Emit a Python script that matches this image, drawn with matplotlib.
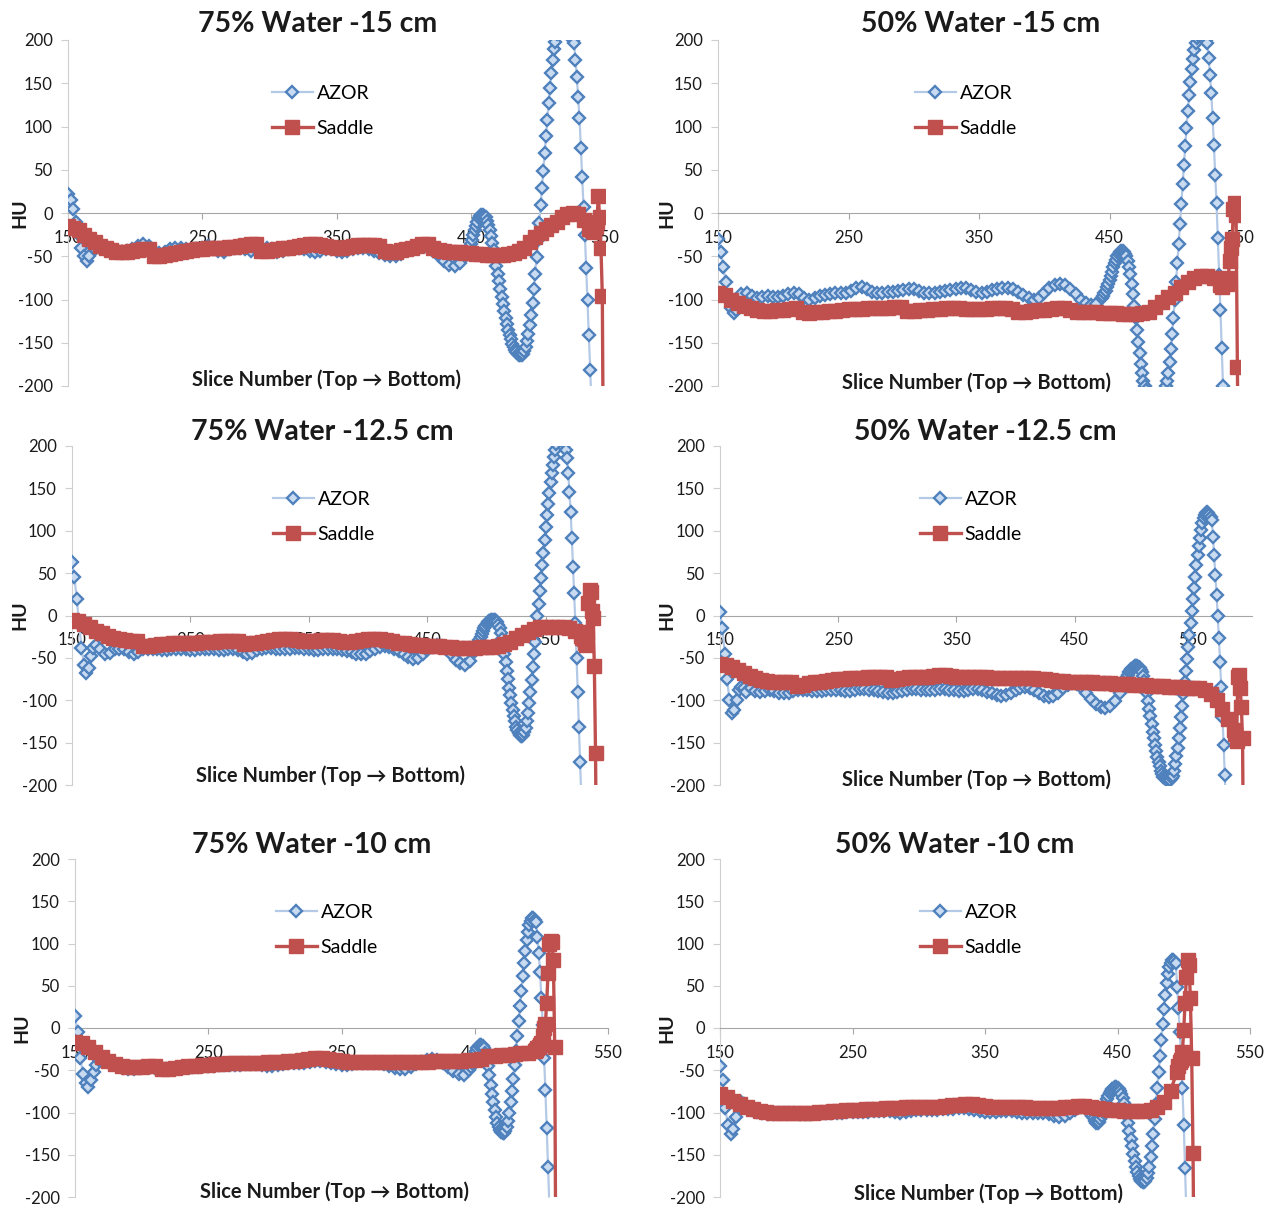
import matplotlib
matplotlib.use("Agg")
import matplotlib.pyplot as plt

plt.rcParams['font.family'] = ['Lato', 'DejaVu Sans']
plt.rcParams['axes.unicode_minus'] = False

# ---------- data: HU along the slice number ----------
# every series is kept as pieces (first slice, slice step, HU values)

# 75% Water -15 cm
p1_azor = [
    (150, 2, [22, 15, 5, -10, -25, -40, -50, -55, -50]),
    (170, 4, [-42, -40, -40, -42, -44, -45, -44, -42, -38, -36,
              -38, -44, -46, -45, -42, -40, -40, -42, -44, -43,
              -40, -38, -40, -44, -45, -42, -40, -40, -42, -44,
              -42, -40, -40, -42, -45, -44, -42, -40, -40, -42,
              -44, -45, -44, -42, -42, -44, -45, -44, -42, -40,
              -40, -42, -44, -46, -48, -50, -50, -47, -43, -40,
              -38, -38, -40, -44, -50, -56, -60, -61, -58, -50]),
    (447, 1, [-47, -44, -40, -36, -31, -26, -20, -15, -10, -6, -3, -2,
              -2, -3, -5, -9, -14, -20, -27, -35, -43, -52, -61, -70, -79, -88,
              -97, -105, -113, -121, -128, -135, -141, -146, -151, -155, -158,
              -161, -163, -164, -164, -164,
              -163, -160, -155, -148, -140, -130, -118, -104, -88, -70, -51, -31,
              -11, 9, 29, 49, 69, 89, 108, 127, 145, 162, 177, 190, 198, 207,
              214, 219, 223, 225, 226, 225, 223, 220, 216, 211, 205, 200, 197,
              177, 157, 134, 110, 75, 42, 7, -25, -64, -101, -141, -181, -222]),
]
p1_saddle = [
    (150, 4, [-15, -17, -20, -25, -30, -34, -38, -41, -43, -45,
              -45, -45, -44, -43, -42, -42, -50, -50, -48, -47,
              -46, -45, -44, -43, -42, -42, -41, -41, -40, -40,
              -39, -39, -38, -37, -36, -36, -44, -44, -43, -42,
              -41, -40, -39, -38, -37, -36, -36, -37, -38, -39,
              -40, -40, -39, -38, -37, -37, -37, -37, -38, -44,
              -45, -45, -43, -42, -40, -38, -36, -36, -40, -43,
              -44, -45, -45, -45, -46, -46, -47, -47, -48, -49,
              -49, -48, -47, -46, -44, -40, -34, -28, -23, -18,
              -14, -10, -5, -1, 0, -1, -8, -18]),
    (539, 1, [-19, -20, -21, -22, -16, -10, 20, -5, -40, -96, -350]),
]

# 50% Water -15 cm
p2_azor = [
    (150, 2, [-30, -45, -62, -80, -98, -110, -116, -112, -102, -94]),
    (172, 4, [-92, -96, -98, -97, -96, -97, -97, -96, -94, -92,
              -94, -98, -100, -98, -96, -95, -94, -93, -93, -92,
              -90, -87, -85, -88, -91, -92, -92, -91, -91, -90,
              -89, -88, -88, -90, -92, -93, -92, -91, -90, -89,
              -88, -87, -87, -89, -91, -92, -91, -89, -88, -87,
              -87, -88, -91, -95, -98, -100, -98, -93, -87, -83,
              -82, -83, -88, -94, -100, -104, -106, -105, -98]),
    (445, 1, [-96, -93, -90, -86, -82, -78, -73, -68, -63, -58, -54, -50,
              -47, -45, -44, -44, -45, -47, -50, -55, -62, -71, -82, -94,
              -107, -121, -135, -149, -162, -174, -185, -194, -200, -205,
              -211, -217, -222, -226, -229, -231, -232, -231, -229, -226,
              -222, -217, -211, -205, -200, -194, -185, -172, -157, -140,
              -121, -101, -80, -58, -36, -13, 10, 33, 55, 77, 98, 118, 136,
              152, 166, 178, 188, 196, 202, 206, 208, 208, 207, 205, 203,
              200, 196, 179, 160, 139, 110, 79, 44, 12, -29, -72, -112,
              -156, -200, -245]),
]
p2_saddle = [
    (150, 5, [-93, -95, -100, -104, -107, -110, -112, -113, -113, -112,
              -112, -111, -110, -115, -116, -115, -114, -113, -113, -112,
              -111, -111, -111, -110, -110, -110, -110, -109, -109, -113,
              -113, -112, -112, -111, -111, -110, -110, -110, -111, -111,
              -111, -111, -110, -110, -110, -111, -114, -114, -113, -112,
              -112, -111, -110, -110, -112, -114, -115, -115, -115, -116,
              -116, -116, -117, -117, -117, -116, -114, -109, -103, -97,
              -92, -86, -80, -75, -73, -73, -75, -83]),
    (536, 1, [-85, -80, -78, -80, -82, -75, -55, -40, -30, 5, 12, -2, -178, -330]),
]

# 75% Water -12.5 cm
p3_azor = [
    (150, 2, [63, 45, 20, -10, -38, -58, -68, -62, -48, -38, -35]),
    (174, 4, [-40, -46, -44, -40, -39, -40, -43, -45, -43, -40,
              -39, -39, -40, -41, -41, -40, -39, -39, -40, -41,
              -41, -40, -39, -39, -40, -41, -41, -40, -40, -41,
              -43, -45, -44, -41, -39, -38, -38, -39, -40, -40,
              -39, -38, -38, -39, -40, -41, -41, -40, -39, -39,
              -40, -41, -42, -43, -45, -46, -45, -42, -39, -37,
              -36, -37, -39, -42, -46, -49, -51, -50, -46, -41,
              -37, -35, -36, -40, -46, -52, -56, -58, -54, -42]),
    (491, 1, [-39, -36, -32, -29, -25, -22, -18, -15, -12, -10, -8, -7, -6,
              -5, -5, -5, -5, -6, -8, -11, -15, -21, -28, -36, -45, -55, -65,
              -75, -85, -94, -103, -111, -118, -125, -131, -135, -139, -141,
              -142, -142, -141, -138, -133, -125, -115, -103, -90, -76, -61,
              -46, -31, -16, -1, 14, 29, 44, 59, 74, 89, 104, 118, 132, 145,
              157, 168, 178, 187, 195, 202, 208, 212, 214, 214, 212, 208, 202,
              195, 186, 168, 146, 122, 91, 57, 26, -9, -50, -90, -132, -173,
              -215]),
]
p3_saddle = [
    (150, 5, [-5, -7, -10, -14, -18, -21, -24, -26, -28, -29,
              -30, -30, -36, -36, -35, -34, -34, -33, -33, -32,
              -32, -32, -31, -31, -31, -30, -30, -30, -30, -34,
              -33, -32, -31, -30, -29, -28, -28, -28, -29, -30,
              -30, -30, -29, -29, -29, -30, -31, -31, -30, -29,
              -28, -28, -28, -29, -30, -32, -33, -34, -35, -35,
              -36, -36, -36, -37, -37, -38, -38, -38, -38, -37,
              -37, -37, -36, -34, -31, -27, -23, -19, -16, -14,
              -13, -13, -13, -14, -15, -18, -24]),
    (581, 1, [-26, -28, -32, -35, -20, 15, 30, 28, 5, -3, -60, -162, -330]),
]

# 50% Water -12.5 cm
p4_azor = [
    (150, 2, [4, -15, -45, -75, -100, -115, -112, -100, -88, -84, -86, -90]),
    (176, 4, [-86, -89, -90, -89, -88, -89, -91, -92, -91, -89,
              -88, -88, -88, -89, -89, -89, -88, -88, -88, -88,
              -89, -89, -88, -87, -87, -88, -88, -89, -90, -91,
              -91, -90, -89, -88, -87, -87, -88, -88, -88, -88,
              -87, -87, -88, -88, -89, -89, -88, -87, -87, -88,
              -90, -92, -94, -95, -94, -91, -88, -85, -84, -85,
              -88, -92, -95, -96, -95, -91, -86, -82, -80, -81,
              -85, -91, -98, -104, -108, -109, -107, -101, -91, -79]),
    (493, 1, [-76, -73, -70, -67, -65, -63, -62, -61, -60, -60, -60, -61,
              -62, -64, -67, -71, -77, -84, -92, -101, -110, -119, -128,
              -137, -145, -153, -160, -167, -173, -178, -183, -187, -190,
              -192, -193, -194, -195, -195, -194, -192, -189, -183, -175,
              -166, -156, -145, -133, -120, -107, -93, -79, -65, -51, -37,
              -23, -9, 5, 19, 33, 46, 59, 71, 82, 92, 101, 109, 115, 119,
              121, 122, 121, 119, 116, 113, 93, 71, 48, 24, 0, -27, -55, -84,
              -120, -153, -188, -225]),
]
p4_saddle = [
    (150, 5, [-57, -58, -61, -64, -68, -71, -74, -76, -77, -78,
              -78, -78, -79, -83, -82, -80, -79, -78, -77, -76,
              -75, -75, -74, -74, -74, -73, -73, -73, -73, -76,
              -75, -74, -73, -72, -72, -72, -71, -70, -70, -71,
              -72, -72, -72, -72, -72, -73, -74, -74, -74, -74,
              -74, -74, -74, -74, -75, -75, -76, -77, -77, -78,
              -78, -78, -79, -79, -80, -80, -80, -81, -81, -81,
              -82, -82, -82, -83, -83, -83, -84, -84, -84, -85,
              -85, -86, -88, -93, -100, -110, -122, -135]),
    (586, 1, [-140, -148, -72, -70, -85, -108, -145, -330]),
]

# 75% Water -10 cm
p5_azor = [
    (150, 2, [14, -5, -35, -55, -65, -70, -62, -52, -44, -38, -36]),
    (174, 4, [-38, -42, -45, -47, -48, -48, -47, -46, -46, -47,
              -48, -49, -48, -47, -46, -46, -46, -46, -45, -45,
              -45, -44, -44, -44, -44, -44, -43, -43, -43, -44,
              -45, -45, -44, -43, -42, -42, -42, -41, -40, -39,
              -39, -40, -42, -43, -44, -44, -43, -42, -42, -42,
              -42, -42, -43, -45, -47, -48, -48, -46, -43, -40,
              -38, -37, -38, -41, -46, -51, -55, -56, -50]),
    (447, 1, [-46, -41, -36, -31, -27, -24, -21, -20, -20, -21,
              -24, -29, -36, -45, -56, -67, -78, -88, -97, -105,
              -112, -117, -121, -123, -124, -124, -122, -117, -110, -100,
              -88, -75, -60, -44, -27, -10, 8, 26, 44, 61,
              77, 91, 104, 114, 122, 127, 130, 130, 128, 125,
              108, 89, 66, 36, 4, -35, -73, -118, -164, -210]),
]
p5_saddle = [
    (150, 5, [-16, -18, -22, -28, -34, -39, -43, -45, -46, -46,
              -46, -45, -45, -48, -48, -47, -46, -45, -45, -44,
              -44, -43, -43, -42, -42, -42, -41, -41, -41, -40,
              -40, -40, -39, -39, -38, -37, -36, -36, -37, -38,
              -39, -40, -40, -40, -40, -40, -40, -40, -40, -40,
              -40, -40, -40, -40, -39, -39, -39, -39, -39, -38,
              -38, -37, -33, -33, -32, -32, -31, -30, -29, -27]),
    (496, 1, [-26, -24, -23, -20, -18, -10, 0, 5, 30, 65, 100, 103, 102, 80, -22, -330]),
]

# 50% Water -10 cm
p6_azor = [
    (150, 2, [-45, -62, -95, -115, -125, -120, -105, -92, -88, -90, -94]),
    (174, 4, [-97, -99, -101, -102, -102, -101, -100, -100, -101, -102,
              -102, -102, -101, -100, -100, -100, -100, -100, -99, -99,
              -99, -99, -99, -98, -98, -98, -98, -99, -100, -99,
              -98, -97, -97, -97, -97, -97, -96, -96, -96, -95,
              -95, -96, -97, -98, -99, -99, -99, -98, -98, -98,
              -99, -100, -100, -100, -100, -101, -102, -104, -105, -104,
              -101, -97, -94, -96, -102]),
    (431, 1, [-104, -107, -110, -112, -112, -111, -108, -104, -99, -94,
              -89, -84, -80, -77, -74, -72, -71, -70, -70, -71,
              -72, -74, -78, -83, -89, -96, -104, -113, -122, -131,
              -140, -149, -157, -164, -170, -175, -179, -181, -182, -182,
              -181, -178, -172, -164, -153, -140, -125, -108, -90, -71,
              -52, -33, -14, 5, 23, 39, 53, 64, 72, 77,
              80, 80, 79, 77, 49, 24, -5, -34, -71, -115, -166, -220]),
]
p6_saddle = [
    (150, 5, [-78, -82, -86, -90, -93, -96, -98, -99, -100, -100,
              -100, -100, -100, -100, -100, -99, -99, -98, -98, -97,
              -97, -97, -96, -96, -96, -95, -95, -95, -94, -94,
              -94, -93, -93, -93, -92, -91, -91, -90, -90, -91,
              -92, -93, -93, -93, -93, -94, -94, -95, -95, -95,
              -95, -95, -94, -93, -92, -92, -93, -95, -96, -97,
              -97, -98, -98, -98, -98, -97, -94, -88, -74, -52]),
    (496, 1, [-45, -40, -38, -28, -2, 30, 60, 80, 75, 35, -35, -148, -330]),
]

titles = ["75% Water -15 cm", "50% Water -15 cm", "75% Water -12.5 cm",
          "50% Water -12.5 cm", "75% Water -10 cm", "50% Water -10 cm"]
azor_series = [p1_azor, p2_azor, p3_azor, p4_azor, p5_azor, p6_azor]
saddle_series = [p1_saddle, p2_saddle, p3_saddle, p4_saddle, p5_saddle, p6_saddle]
x_max = [550, 550, 600, 600, 550, 550]
x_ticks = [150, 250, 350, 450, 550]
y_ticks = [-200, -150, -100, -50, 0, 50, 100, 150, 200]

# ---------- layout in pixels of the 1280x1207 picture ----------
W, H = 1280, 1207
# plot box (left, right, top, bottom), title centre, x label centre, HU x, legend anchor
layout = [
    ((68, 605, 40, 386), (318, 24), (327, 380), 20, (262, 111)),
    ((718, 1240, 40, 386), (981, 24), (977, 383), 667, (905, 111)),
    ((72, 605, 446, 785), (322, 432), (331, 776), 20, (263, 517)),
    ((720, 1252, 446, 785), (985, 432), (977, 780), 667, (910, 517)),
    ((75, 608, 859, 1197), (312, 845), (335, 1192), 22, (266, 930)),
    ((720, 1250, 859, 1197), (955, 845), (988, 1194), 667, (910, 930)),
]

AZOR_LINE = '#b4c9e6'
AZOR_FACE = '#c9dbf1'
AZOR_EDGE = '#4f81bd'
SADDLE = '#c0504d'


def series_xy(parts):
    """Склеивает куски серии в списки x, y"""
    xs, ys = [], []
    for start, step, vals in parts:
        xs.extend(start + step * i for i in range(len(vals)))
        ys.extend(vals)
    return xs, ys


fig = plt.figure(figsize=(W / 100, H / 100), dpi=100)

for i in range(6):
    (l, r, t, b), (tx, ty), (lx, ly), hu_x, (gx, gy) = layout[i]
    ax = fig.add_axes([l / W, 1 - b / H, (r - l) / W, (b - t) / H])

    ax_x, ax_y = series_xy(azor_series[i])
    sx, sy = series_xy(saddle_series[i])
    ax.plot(ax_x, ax_y, color=AZOR_LINE, lw=1.6, marker='D', ms=6.6,
            mfc=AZOR_FACE, mec=AZOR_EDGE, mew=1.7, label='AZOR', zorder=3)
    ax.plot(sx, sy, color=SADDLE, lw=2.4, marker='s', ms=10,
            mfc=SADDLE, mec=SADDLE, mew=1, label='Saddle', zorder=4)

    ax.set_xlim(150, x_max[i])
    ax.set_ylim(-200, 200)
    ax.set_xticks(x_ticks)
    ax.set_yticks(y_ticks)
    for side in ['top', 'right']:
        ax.spines[side].set_visible(False)
    ax.spines['bottom'].set_position(('data', 0))
    ax.spines['bottom'].set_color('#a6a6a6')
    ax.spines['left'].set_color('#cfcfcf')
    for sp in ax.spines.values():
        sp.set_zorder(1)
    ax.set_axisbelow(True)
    ax.tick_params(axis='x', direction='out', length=4, color='#a6a6a6',
                   pad=8, labelsize=12, labelcolor='#1a1a1a')
    ax.tick_params(axis='y', direction='out', length=5, color='#cfcfcf',
                   pad=6, labelsize=12, labelcolor='#1a1a1a')

    # подпись оси X внутри области графика
    ax.text((lx - l) / (r - l), (b - ly) / (b - t), 'Slice Number (Top \u2192 Bottom)',
            transform=ax.transAxes, ha='center', va='center',
            fontsize=14.5, fontweight='bold', color='#1a1a1a', zorder=6)

    fig.text(tx / W, 1 - ty / H, titles[i], ha='center', va='center',
             fontsize=20.5, fontweight='bold', color='#1a1a1a')
    zero_y = t + (b - t) / 2
    fig.text(hu_x / W, 1 - zero_y / H, 'HU', ha='center', va='center',
             rotation=90, fontsize=14, fontweight='bold', color='#1a1a1a')

    ax.legend(loc='center left', bbox_to_anchor=(gx / W, 1 - gy / H),
              bbox_transform=fig.transFigure, frameon=False, borderpad=0,
              handlelength=2.1, handletextpad=0.2, labelspacing=0.9,
              prop={'size': 14})

fig.savefig('out.png', dpi=100)
